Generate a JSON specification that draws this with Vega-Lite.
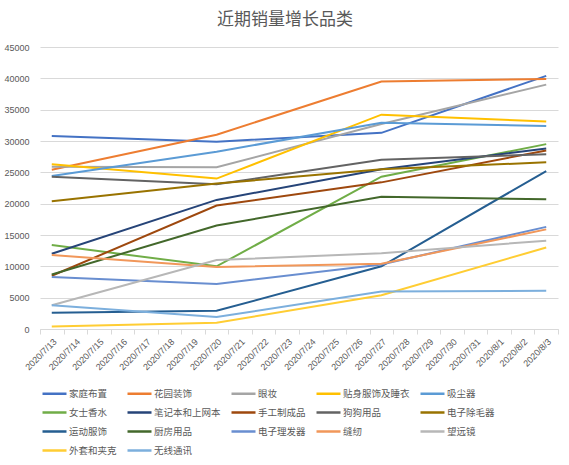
{
  "$schema": "https://vega.github.io/schema/vega-lite/v6.json",
  "title": {
    "text": "近期销量增长品类",
    "anchor": "middle",
    "dx": -14,
    "offset": 14,
    "font": "Noto Sans CJK SC",
    "fontSize": 17,
    "fontWeight": "normal",
    "color": "#595959"
  },
  "width": 518,
  "height": 282,
  "autosize": {"type": "none"},
  "padding": {"left": 40, "top": 47, "right": 11, "bottom": 136},
  "background": "#FFFFFF",
  "view": {"stroke": null},
  "data": {
    "values": [
      {"date": "2020/7/13", "category": "家庭布置", "value": 30800},
      {"date": "2020/7/20", "category": "家庭布置", "value": 29900},
      {"date": "2020/7/27", "category": "家庭布置", "value": 31300},
      {"date": "2020/8/3", "category": "家庭布置", "value": 40400},
      {"date": "2020/7/13", "category": "花园装饰", "value": 25400},
      {"date": "2020/7/20", "category": "花园装饰", "value": 31000},
      {"date": "2020/7/27", "category": "花园装饰", "value": 39500},
      {"date": "2020/8/3", "category": "花园装饰", "value": 39900},
      {"date": "2020/7/13", "category": "眼妆", "value": 25900},
      {"date": "2020/7/20", "category": "眼妆", "value": 25800},
      {"date": "2020/7/27", "category": "眼妆", "value": 32700},
      {"date": "2020/8/3", "category": "眼妆", "value": 39000},
      {"date": "2020/7/13", "category": "贴身服饰及睡衣", "value": 26300},
      {"date": "2020/7/20", "category": "贴身服饰及睡衣", "value": 24000},
      {"date": "2020/7/27", "category": "贴身服饰及睡衣", "value": 34200},
      {"date": "2020/8/3", "category": "贴身服饰及睡衣", "value": 33100},
      {"date": "2020/7/13", "category": "吸尘器", "value": 24400},
      {"date": "2020/7/20", "category": "吸尘器", "value": 28300},
      {"date": "2020/7/27", "category": "吸尘器", "value": 32900},
      {"date": "2020/8/3", "category": "吸尘器", "value": 32400},
      {"date": "2020/7/13", "category": "女士香水", "value": 13400},
      {"date": "2020/7/20", "category": "女士香水", "value": 10000},
      {"date": "2020/7/27", "category": "女士香水", "value": 24300},
      {"date": "2020/8/3", "category": "女士香水", "value": 29500},
      {"date": "2020/7/13", "category": "笔记本和上网本", "value": 12000},
      {"date": "2020/7/20", "category": "笔记本和上网本", "value": 20600},
      {"date": "2020/7/27", "category": "笔记本和上网本", "value": 25500},
      {"date": "2020/8/3", "category": "笔记本和上网本", "value": 28800},
      {"date": "2020/7/13", "category": "手工制成品", "value": 8500},
      {"date": "2020/7/20", "category": "手工制成品", "value": 19700},
      {"date": "2020/7/27", "category": "手工制成品", "value": 23400},
      {"date": "2020/8/3", "category": "手工制成品", "value": 28500},
      {"date": "2020/7/13", "category": "狗狗用品", "value": 24300},
      {"date": "2020/7/20", "category": "狗狗用品", "value": 23100},
      {"date": "2020/7/27", "category": "狗狗用品", "value": 27000},
      {"date": "2020/8/3", "category": "狗狗用品", "value": 27900},
      {"date": "2020/7/13", "category": "电子除毛器", "value": 20400},
      {"date": "2020/7/20", "category": "电子除毛器", "value": 23200},
      {"date": "2020/7/27", "category": "电子除毛器", "value": 25500},
      {"date": "2020/8/3", "category": "电子除毛器", "value": 26600},
      {"date": "2020/7/13", "category": "运动服饰", "value": 2600},
      {"date": "2020/7/20", "category": "运动服饰", "value": 2900},
      {"date": "2020/7/27", "category": "运动服饰", "value": 10000},
      {"date": "2020/8/3", "category": "运动服饰", "value": 25200},
      {"date": "2020/7/13", "category": "厨房用品", "value": 8700},
      {"date": "2020/7/20", "category": "厨房用品", "value": 16500},
      {"date": "2020/7/27", "category": "厨房用品", "value": 21100},
      {"date": "2020/8/3", "category": "厨房用品", "value": 20700},
      {"date": "2020/7/13", "category": "电子理发器", "value": 8300},
      {"date": "2020/7/20", "category": "电子理发器", "value": 7200},
      {"date": "2020/7/27", "category": "电子理发器", "value": 10300},
      {"date": "2020/8/3", "category": "电子理发器", "value": 16300},
      {"date": "2020/7/13", "category": "缝纫", "value": 11800},
      {"date": "2020/7/20", "category": "缝纫", "value": 9900},
      {"date": "2020/7/27", "category": "缝纫", "value": 10400},
      {"date": "2020/8/3", "category": "缝纫", "value": 15900},
      {"date": "2020/7/13", "category": "望远镜", "value": 3800},
      {"date": "2020/7/20", "category": "望远镜", "value": 11000},
      {"date": "2020/7/27", "category": "望远镜", "value": 12100},
      {"date": "2020/8/3", "category": "望远镜", "value": 14100},
      {"date": "2020/7/13", "category": "外套和夹克", "value": 400},
      {"date": "2020/7/20", "category": "外套和夹克", "value": 1000},
      {"date": "2020/7/27", "category": "外套和夹克", "value": 5400},
      {"date": "2020/8/3", "category": "外套和夹克", "value": 13000},
      {"date": "2020/7/13", "category": "无线通讯", "value": 3800},
      {"date": "2020/7/20", "category": "无线通讯", "value": 1900},
      {"date": "2020/7/27", "category": "无线通讯", "value": 6000},
      {"date": "2020/8/3", "category": "无线通讯", "value": 6100}
    ]
  },
  "mark": {"type": "line", "strokeWidth": 2},
  "encoding": {
    "x": {
      "field": "date",
      "type": "ordinal",
      "bandPosition": 0.5,
      "scale": {
        "type": "band",
        "paddingInner": 0,
        "paddingOuter": 0,
        "domain": ["2020/7/13", "2020/7/14", "2020/7/15", "2020/7/16", "2020/7/17", "2020/7/18", "2020/7/19", "2020/7/20", "2020/7/21", "2020/7/22", "2020/7/23", "2020/7/24", "2020/7/25", "2020/7/26", "2020/7/27", "2020/7/28", "2020/7/29", "2020/7/30", "2020/7/31", "2020/8/1", "2020/8/2", "2020/8/3"]
      },
      "axis": {
        "title": null,
        "labelAngle": -45,
        "labelFont": "Liberation Sans",
        "labelFontSize": 9,
        "labelColor": "#595959",
        "labelPadding": 3,
        "domainColor": "#D9D9D9",
        "tickColor": "#D9D9D9",
        "tickSize": 5,
        "tickBand": "extent",
        "grid": false
      }
    },
    "y": {
      "field": "value",
      "type": "quantitative",
      "scale": {"domain": [0, 45000], "nice": false},
      "axis": {
        "title": null,
        "values": [0, 5000, 10000, 15000, 20000, 25000, 30000, 35000, 40000, 45000],
        "format": "d",
        "labelFont": "Liberation Sans",
        "labelFontSize": 9,
        "labelColor": "#595959",
        "labelPadding": 11,
        "ticks": false,
        "domain": false,
        "grid": true,
        "gridColor": "#D9D9D9"
      }
    },
    "color": {
      "field": "category",
      "type": "nominal",
      "sort": null,
      "scale": {
        "domain": ["家庭布置", "花园装饰", "眼妆", "贴身服饰及睡衣", "吸尘器", "女士香水", "笔记本和上网本", "手工制成品", "狗狗用品", "电子除毛器", "运动服饰", "厨房用品", "电子理发器", "缝纫", "望远镜", "外套和夹克", "无线通讯"],
        "range": ["#4472C4", "#ED7D31", "#A5A5A5", "#FFC000", "#5B9BD5", "#70AD47", "#264478", "#9E480E", "#636363", "#997300", "#255E91", "#43682B", "#698ED0", "#F1975A", "#B7B7B7", "#FFCD33", "#7CAFDD"]
      },
      "legend": {
        "title": null,
        "orient": "none",
        "legendX": 1,
        "legendY": 333,
        "direction": "horizontal",
        "columns": 5,
        "gridAlign": "each",
        "columnPadding": 5,
        "rowPadding": -5,
        "symbolType": "stroke",
        "symbolSize": 576,
        "symbolStrokeWidth": 2.5,
        "labelOffset": 1,
        "labelExpr": "pad(datum.label, 7, '\u3000', 'right')",
        "labelFont": "Noto Sans CJK SC",
        "labelFontSize": 9.5,
        "labelColor": "#595959",
        "labelLimit": 120
      }
    }
  }
}
